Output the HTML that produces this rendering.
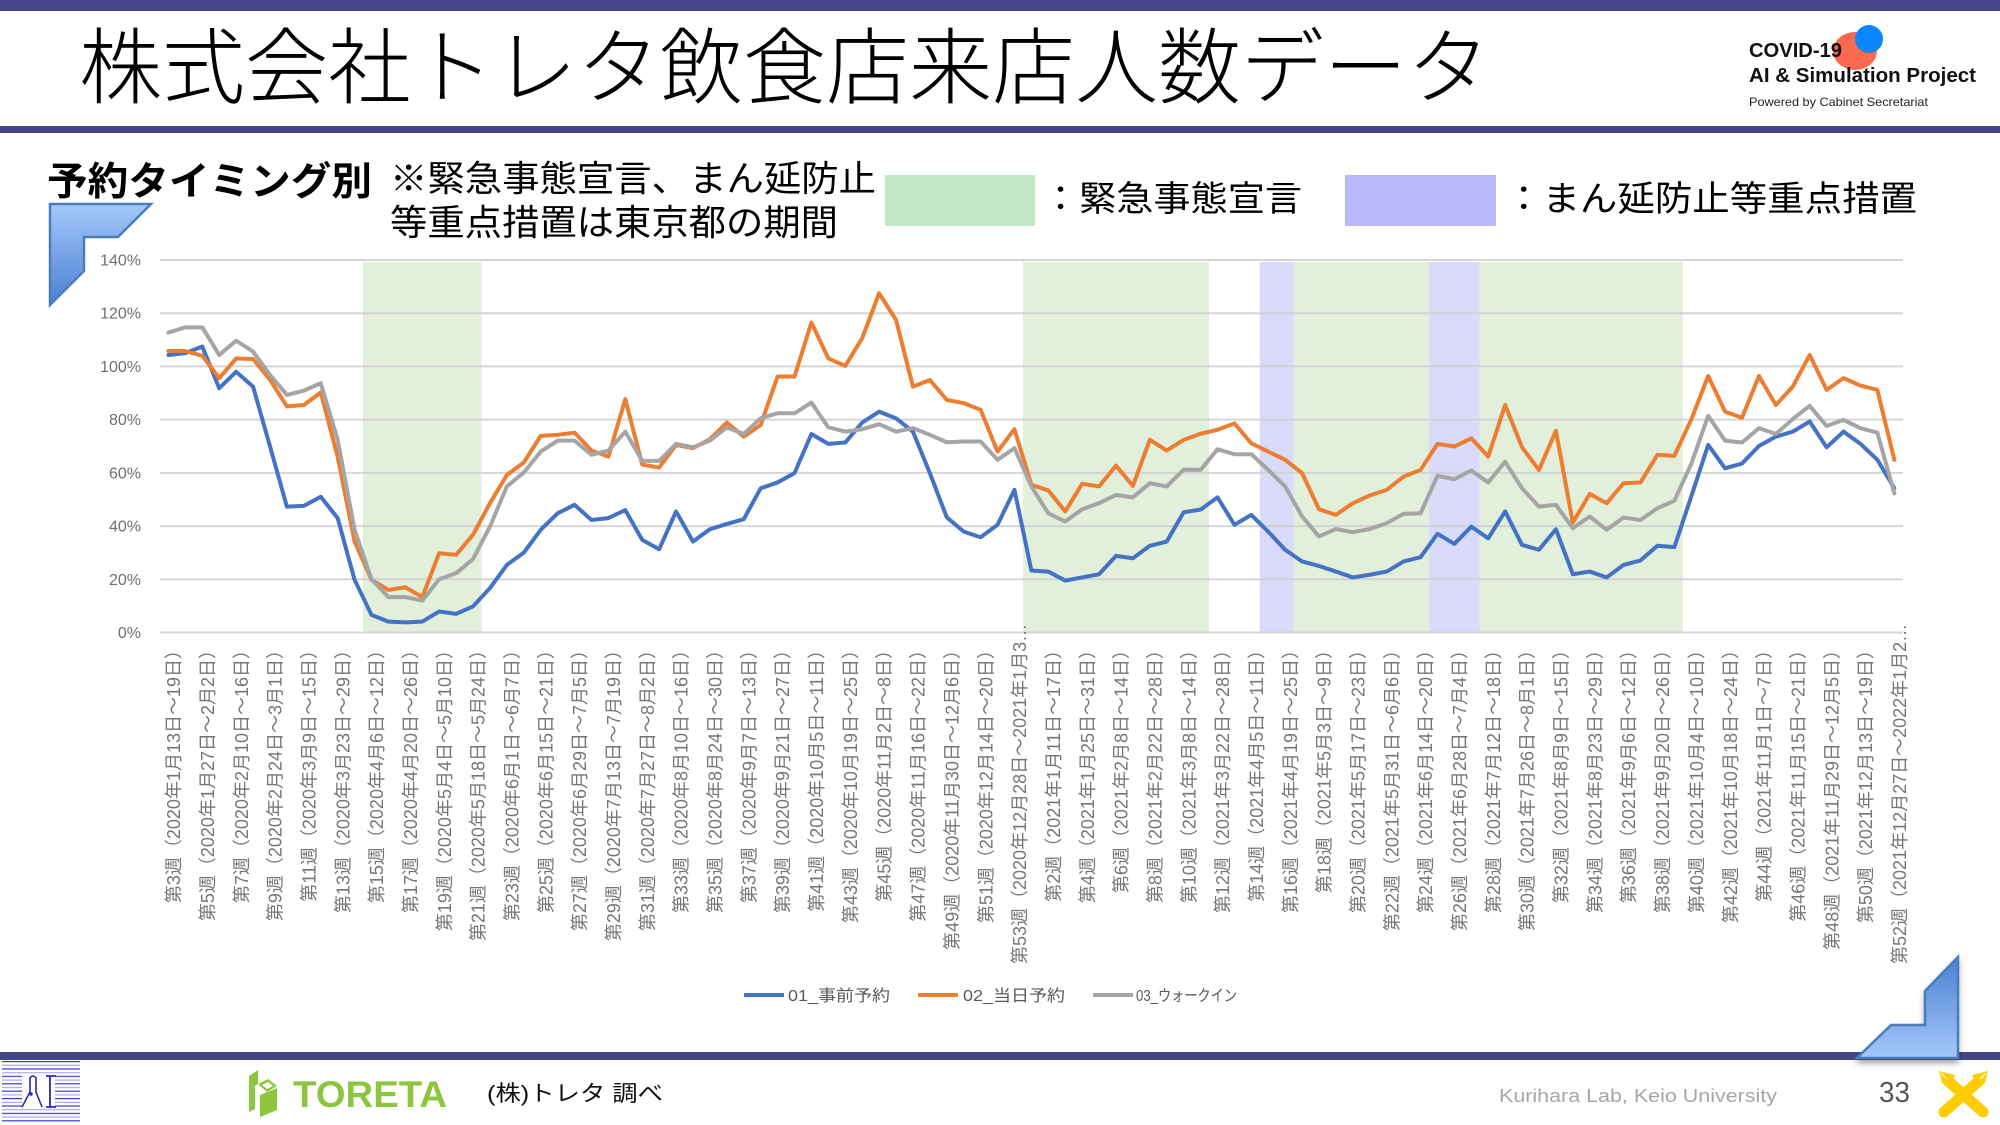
<!DOCTYPE html>
<html><head><meta charset="utf-8"><style>html,body{margin:0;padding:0;background:#fff;}svg{display:block}</style></head>
<body>
<svg width="2000" height="1125" viewBox="0 0 2000 1125" xmlns="http://www.w3.org/2000/svg" font-family="'Liberation Sans','Noto Sans CJK JP',sans-serif">
<defs>
<linearGradient id="g1" x1="0" y1="0" x2="0" y2="1"><stop offset="0" stop-color="#a5c8fc"/><stop offset="1" stop-color="#4a80d2"/></linearGradient>
<linearGradient id="g2" x1="0" y1="0" x2="0" y2="1"><stop offset="0" stop-color="#4a80d2"/><stop offset="1" stop-color="#a5c8fc"/></linearGradient>
<filter id="sh" x="-20%" y="-20%" width="140%" height="150%"><feDropShadow dx="0" dy="4" stdDeviation="3" flood-color="#000" flood-opacity="0.35"/></filter>
<pattern id="lp" width="10" height="7.4" patternUnits="userSpaceOnUse" x="0" y="1061"><rect width="10" height="1.2" fill="#3a3acc"/><rect y="3.7" width="10" height="1.2" fill="#a8a8ee"/></pattern>
</defs>
<rect width="2000" height="1125" fill="#fff"/>
<!-- header -->
<rect x="0" y="0" width="2000" height="11" fill="#45458a"/>
<rect x="0" y="126" width="2000" height="7" fill="#45458a"/>
<text x="79" y="97" font-size="83" font-weight="300" fill="#000" textLength="1411" lengthAdjust="spacingAndGlyphs">株式会社トレタ飲食店来店人数データ</text>
<ellipse cx="1855" cy="51" rx="22" ry="19" fill="#fb6a4f"/>
<circle cx="1869" cy="39" r="14" fill="#0a86ff"/>
<text x="1749" y="57" font-family="'Liberation Sans',sans-serif" font-weight="bold" font-size="20" fill="#111" textLength="93" lengthAdjust="spacingAndGlyphs">COVID-19</text>
<text x="1749" y="82" font-family="'Liberation Sans',sans-serif" font-weight="bold" font-size="20" fill="#111" textLength="227" lengthAdjust="spacingAndGlyphs">AI &amp; Simulation Project</text>
<text x="1749" y="106" font-family="'Liberation Sans',sans-serif" font-size="12" fill="#222" textLength="179" lengthAdjust="spacingAndGlyphs">Powered by Cabinet Secretariat</text>

<!-- subtitle + legend boxes -->
<text x="47" y="195" font-size="39" font-weight="bold" fill="#000" textLength="325" lengthAdjust="spacingAndGlyphs">予約タイミング別</text>
<text x="390" y="191" font-size="36" fill="#000" textLength="486" lengthAdjust="spacingAndGlyphs">※緊急事態宣言、まん延防止</text>
<text x="390" y="235" font-size="36" fill="#000" textLength="448" lengthAdjust="spacingAndGlyphs">等重点措置は東京都の期間</text>
<rect x="885" y="175" width="150" height="51" fill="#c3e8c8"/>
<text x="1042" y="211" font-size="35" fill="#000" textLength="260" lengthAdjust="spacingAndGlyphs">：緊急事態宣言</text>
<rect x="1345" y="175" width="151" height="51" fill="#b9b9fb"/>
<text x="1505" y="211" font-size="35" fill="#000" textLength="412" lengthAdjust="spacingAndGlyphs">：まん延防止等重点措置</text>

<!-- top-left decoration -->
<polygon points="50,204 151,204 118,237 84,237 84,271 50,305" fill="url(#g1)" stroke="#4a7ebb" stroke-width="2.5" stroke-linejoin="miter"/>

<!-- bands -->
<g>
<rect x="363.0" y="262" width="118.5" height="370.5" fill="#e2efda"/>
<rect x="1022.9" y="262" width="186.1" height="370.5" fill="#e2efda"/>
<rect x="1259.8" y="262" width="33.8" height="370.5" fill="#dadafb"/>
<rect x="1293.6" y="262" width="135.4" height="370.5" fill="#e2efda"/>
<rect x="1429.0" y="262" width="50.8" height="370.5" fill="#dadafb"/>
<rect x="1479.8" y="262" width="203" height="370.5" fill="#e2efda"/>
</g>
<!-- gridlines -->
<g stroke="#cfcfcf" stroke-opacity="0.85" stroke-width="2">
<line x1="160" y1="260.0" x2="1903" y2="260.0"/>
<line x1="160" y1="313.2" x2="1903" y2="313.2"/>
<line x1="160" y1="366.4" x2="1903" y2="366.4"/>
<line x1="160" y1="419.6" x2="1903" y2="419.6"/>
<line x1="160" y1="472.9" x2="1903" y2="472.9"/>
<line x1="160" y1="526.1" x2="1903" y2="526.1"/>
<line x1="160" y1="579.3" x2="1903" y2="579.3"/>
<line x1="160" y1="632.5" x2="1903" y2="632.5"/>
</g>
<g font-family="'Liberation Sans',sans-serif" font-size="16" fill="#6f6f6f" text-anchor="end">
<text x="141" y="265.5">140%</text>
<text x="141" y="318.7">120%</text>
<text x="141" y="371.9">100%</text>
<text x="141" y="425.1">80%</text>
<text x="141" y="478.4">60%</text>
<text x="141" y="531.6">40%</text>
<text x="141" y="584.8">20%</text>
<text x="141" y="638.0">0%</text>
</g>

<!-- series -->
<g transform="translate(168.46,632.5) scale(16.92,-2.6607)" fill="none" stroke-linejoin="round" stroke-linecap="round">
<polyline vector-effect="non-scaling-stroke" stroke="#4472c4" stroke-width="4" points="0,104.3 1,105 2,107.5 3,91.8 4,98 5,92.4 6,70 7,47.3 8,47.6 9,51 10,43 11,19.8 12,6.6 13,4.1 14,3.8 15,4.1 16,7.9 17,7 18,9.8 19,16.7 20,25.4 21,30 22,38.6 23,44.8 24,48 25,42.3 26,43 27,46 28,34.8 29,31.3 30,45.5 31,34.2 32,38.8 33,40.8 34,42.6 35,54.2 36,56.4 37,59.9 38,74.6 39,70.9 40,71.4 41,78.9 42,83 43,80.5 44,75.5 45,59.9 46,43.3 47,37.9 48,35.8 49,40.5 50,53.6 51,23.3 52,22.9 53,19.5 54,20.7 55,21.9 56,28.8 57,27.9 58,32.6 59,34.2 60,45.2 61,46.2 62,50.8 63,40.5 64,44.2 65,37.9 66,31.1 67,26.7 68,25 69,22.9 70,20.7 71,21.7 72,22.9 73,26.7 74,28.3 75,37.1 76,33.3 77,39.8 78,35.4 79,45.5 80,32.9 81,31.1 82,38.8 83,21.9 84,22.9 85,20.7 86,25.4 87,27.1 88,32.6 89,32.1 90,51.1 91,70.5 92,61.7 93,63.5 94,70.1 95,73.6 96,75.5 97,79.3 98,69.6 99,75.5 100,70.9 101,64.9 102,54.2"/>
<polyline vector-effect="non-scaling-stroke" stroke="#ed7d31" stroke-width="4" points="0,105.8 1,105.8 2,104 3,95.6 4,103 5,102.8 6,95 7,85 8,85.5 9,90.2 10,66 11,34.2 12,19.8 13,16 14,17 15,13.3 16,29.8 17,29.2 18,36.7 19,48.6 20,59.2 21,63.9 22,73.9 23,74.3 24,75.1 25,68.4 26,66.1 27,87.7 28,63.1 29,62 30,70.5 31,69.3 32,72.6 33,78.9 34,73.6 35,78 36,96.2 37,96.2 38,116.5 39,103 40,100.2 41,110.6 42,127.5 43,117.5 44,92.4 45,94.9 46,87.4 47,86.2 48,83.7 49,68 50,76.4 51,55.5 52,53.4 53,45.5 54,55.9 55,54.9 56,62.7 57,55.1 58,72.4 59,68.4 60,72.4 61,74.7 62,76.2 63,78.6 64,71.1 65,68 66,64.9 67,59.9 68,46.3 69,44.2 70,48.6 71,51.5 72,53.6 73,58.6 74,61.1 75,70.9 76,69.9 77,73 78,66.1 79,85.5 80,69.6 81,61.1 82,75.8 83,41.3 84,52.1 85,48.6 86,56.1 87,56.4 88,66.8 89,66.4 90,80 91,96.4 92,83 93,80.7 94,96.4 95,85.5 96,92.4 97,104.3 98,91.2 99,95.6 100,92.8 101,91.2 102,64.9"/>
<polyline vector-effect="non-scaling-stroke" stroke="#a5a5a5" stroke-width="4" points="0,112.7 1,114.7 2,114.7 3,104.3 4,109.7 5,105.6 6,96.8 7,89.3 8,90.9 9,93.7 10,72.4 11,38.6 12,20 13,13.3 14,13.3 15,12 16,20 17,22.3 18,27.6 19,39.8 20,54.9 21,60.1 22,68 23,72.1 24,72.1 25,66.8 26,68.4 27,75.5 28,64.5 29,64.5 30,70.9 31,69.6 32,72.1 33,77.1 34,74.6 35,80.5 36,82.4 37,82.4 38,86.4 39,77.1 40,75.5 41,76.4 42,78.3 43,75.5 44,76.8 45,74.3 46,71.5 47,71.8 48,71.8 49,64.9 50,69.3 51,54.9 52,44.8 53,41.7 54,46.3 55,48.6 56,51.7 57,50.8 58,56.1 59,54.9 60,61.2 61,61.1 62,68.9 63,67 64,67 65,61.1 66,54.9 67,43.6 68,36.1 69,38.9 70,37.7 71,38.9 72,41.1 73,44.6 74,44.8 75,58.9 76,57.6 77,60.9 78,56.4 79,64.2 80,54.2 81,47.3 82,48 83,39.2 84,43.6 85,38.6 86,43.2 87,42.3 88,46.7 89,49.5 90,63.4 91,81.4 92,72.1 93,71.4 94,76.8 95,74.6 96,80.2 97,85.2 98,77.6 99,79.9 100,76.8 101,75.1 102,52.3"/>
</g>

<!-- x labels -->
<g font-size="18" fill="#767676" text-anchor="end">
<text transform="translate(180.1 641) rotate(-90)">第3週（2020年1月13日～19日）</text>
<text transform="translate(213.9 641) rotate(-90)">第5週（2020年1月27日～2月2日）</text>
<text transform="translate(247.8 641) rotate(-90)">第7週（2020年2月10日～16日）</text>
<text transform="translate(281.6 641) rotate(-90)">第9週（2020年2月24日～3月1日）</text>
<text transform="translate(315.5 641) rotate(-90)">第11週（2020年3月9日～15日）</text>
<text transform="translate(349.3 641) rotate(-90)">第13週（2020年3月23日～29日）</text>
<text transform="translate(383.1 641) rotate(-90)">第15週（2020年4月6日～12日）</text>
<text transform="translate(417.0 641) rotate(-90)">第17週（2020年4月20日～26日）</text>
<text transform="translate(450.8 641) rotate(-90)">第19週（2020年5月4日～5月10日）</text>
<text transform="translate(484.7 641) rotate(-90)">第21週（2020年5月18日～5月24日）</text>
<text transform="translate(518.5 641) rotate(-90)">第23週（2020年6月1日～6月7日）</text>
<text transform="translate(552.3 641) rotate(-90)">第25週（2020年6月15日～21日）</text>
<text transform="translate(586.2 641) rotate(-90)">第27週（2020年6月29日～7月5日）</text>
<text transform="translate(620.0 641) rotate(-90)">第29週（2020年7月13日～7月19日）</text>
<text transform="translate(653.9 641) rotate(-90)">第31週（2020年7月27日～8月2日）</text>
<text transform="translate(687.7 641) rotate(-90)">第33週（2020年8月10日～16日）</text>
<text transform="translate(721.5 641) rotate(-90)">第35週（2020年8月24日～30日）</text>
<text transform="translate(755.4 641) rotate(-90)">第37週（2020年9月7日～13日）</text>
<text transform="translate(789.2 641) rotate(-90)">第39週（2020年9月21日～27日）</text>
<text transform="translate(823.1 641) rotate(-90)">第41週（2020年10月5日～11日）</text>
<text transform="translate(856.9 641) rotate(-90)">第43週（2020年10月19日～25日）</text>
<text transform="translate(890.7 641) rotate(-90)">第45週（2020年11月2日～8日）</text>
<text transform="translate(924.6 641) rotate(-90)">第47週（2020年11月16日～22日）</text>
<text transform="translate(958.4 641) rotate(-90)">第49週（2020年11月30日～12月6日）</text>
<text transform="translate(992.3 641) rotate(-90)">第51週（2020年12月14日～20日）</text>
<text transform="translate(1026.1 964) rotate(-90)" text-anchor="start">第53週（2020年12月28日～2021年1月3…</text>
<text transform="translate(1060.0 641) rotate(-90)">第2週（2021年1月11日～17日）</text>
<text transform="translate(1093.8 641) rotate(-90)">第4週（2021年1月25日～31日）</text>
<text transform="translate(1127.6 641) rotate(-90)">第6週（2021年2月8日～14日）</text>
<text transform="translate(1161.5 641) rotate(-90)">第8週（2021年2月22日～28日）</text>
<text transform="translate(1195.3 641) rotate(-90)">第10週（2021年3月8日～14日）</text>
<text transform="translate(1229.2 641) rotate(-90)">第12週（2021年3月22日～28日）</text>
<text transform="translate(1263.0 641) rotate(-90)">第14週（2021年4月5日～11日）</text>
<text transform="translate(1296.8 641) rotate(-90)">第16週（2021年4月19日～25日）</text>
<text transform="translate(1330.7 641) rotate(-90)">第18週（2021年5月3日～9日）</text>
<text transform="translate(1364.5 641) rotate(-90)">第20週（2021年5月17日～23日）</text>
<text transform="translate(1398.4 641) rotate(-90)">第22週（2021年5月31日～6月6日）</text>
<text transform="translate(1432.2 641) rotate(-90)">第24週（2021年6月14日～20日）</text>
<text transform="translate(1466.0 641) rotate(-90)">第26週（2021年6月28日～7月4日）</text>
<text transform="translate(1499.9 641) rotate(-90)">第28週（2021年7月12日～18日）</text>
<text transform="translate(1533.7 641) rotate(-90)">第30週（2021年7月26日～8月1日）</text>
<text transform="translate(1567.6 641) rotate(-90)">第32週（2021年8月9日～15日）</text>
<text transform="translate(1601.4 641) rotate(-90)">第34週（2021年8月23日～29日）</text>
<text transform="translate(1635.2 641) rotate(-90)">第36週（2021年9月6日～12日）</text>
<text transform="translate(1669.1 641) rotate(-90)">第38週（2021年9月20日～26日）</text>
<text transform="translate(1702.9 641) rotate(-90)">第40週（2021年10月4日～10日）</text>
<text transform="translate(1736.8 641) rotate(-90)">第42週（2021年10月18日～24日）</text>
<text transform="translate(1770.6 641) rotate(-90)">第44週（2021年11月1日～7日）</text>
<text transform="translate(1804.4 641) rotate(-90)">第46週（2021年11月15日～21日）</text>
<text transform="translate(1838.3 641) rotate(-90)">第48週（2021年11月29日～12月5日）</text>
<text transform="translate(1872.1 641) rotate(-90)">第50週（2021年12月13日～19日）</text>
<text transform="translate(1906.0 964) rotate(-90)" text-anchor="start">第52週（2021年12月27日～2022年1月2…</text>
</g>

<!-- legend -->
<g font-size="16" fill="#595959">
<line x1="744" y1="995" x2="784" y2="995" stroke="#4472c4" stroke-width="4"/>
<text x="788" y="1001" textLength="102" lengthAdjust="spacingAndGlyphs">01_事前予約</text>
<line x1="918" y1="995" x2="958" y2="995" stroke="#ed7d31" stroke-width="4"/>
<text x="963" y="1001" textLength="102" lengthAdjust="spacingAndGlyphs">02_当日予約</text>
<line x1="1093" y1="995" x2="1133" y2="995" stroke="#a5a5a5" stroke-width="4"/>
<text x="1136" y="1001" textLength="101" lengthAdjust="spacingAndGlyphs">03_ウォークイン</text>
</g>

<!-- footer bar -->
<rect x="0" y="1052" width="2000" height="8" fill="#45458a"/>
<!-- bottom-right decoration -->
<polygon points="1958,957 1958,1058 1857,1058 1891,1025 1925,1025 1925,991" fill="url(#g2)" stroke="#4a7ebb" stroke-width="2.5" filter="url(#sh)"/>

<!-- lab logo -->
<rect x="2" y="1061" width="78" height="62" fill="url(#lp)"/>
<rect x="22" y="1074" width="33" height="34" fill="#fff"/>
<path d="M 22 1107 L 30 1092 L 30 1078 Q 33 1074 36 1078 L 36 1092 L 42 1107" fill="none" stroke="#2a2ab0" stroke-width="1.6"/>
<circle cx="31" cy="1094" r="1.8" fill="#2a2ab0"/>
<path d="M 46 1076 L 56 1076 M 50 1076 L 50 1107 M 46 1107 L 56 1107" fill="none" stroke="#2a2ab0" stroke-width="1.8"/>

<!-- TORETA logo -->
<g fill="#8cc63f">
<polygon points="249,1076 258,1070 258,1084 249,1089"/>
<polygon points="249,1089 255,1086 255,1109 249,1112"/>
<polygon points="258,1084 268,1079 277,1086 267,1092"/>
<polygon points="260,1095 277,1088 277,1110 260,1117"/>
</g>
<polygon points="262,1085 268,1082 273,1086 267,1089" fill="#fff"/>
<text x="293" y="1107" font-family="'Liberation Sans',sans-serif" font-weight="bold" font-size="37" fill="#8cc63f" textLength="154" lengthAdjust="spacingAndGlyphs">TORETA</text>
<text x="487" y="1101" font-size="22" fill="#111" textLength="176" lengthAdjust="spacingAndGlyphs">(株)トレタ 調べ</text>

<text x="1499" y="1102" font-family="'Liberation Sans',sans-serif" font-size="18" fill="#a6a6a6" textLength="278" lengthAdjust="spacingAndGlyphs">Kurihara Lab, Keio University</text>
<text x="1879" y="1102" font-family="'Liberation Sans',sans-serif" font-size="29" fill="#595959" textLength="31" lengthAdjust="spacingAndGlyphs">33</text>

<!-- yellow X logo -->
<g stroke="#ffcc00" stroke-width="11" stroke-linecap="round">
<line x1="1947" y1="1080" x2="1983" y2="1112"/>
<line x1="1980" y1="1080" x2="1944" y2="1112"/>
</g>
<polygon points="1939,1071 1955,1075 1950,1086 1942,1083" fill="#ffcc00"/>
<polygon points="1988,1071 1972,1075 1977,1086 1985,1083" fill="#ffcc00"/>
<line x1="1941" y1="1073" x2="1947" y2="1079" stroke="#fff" stroke-width="1.2"/>
<line x1="1986" y1="1073" x2="1980" y2="1079" stroke="#fff" stroke-width="1.2"/>
</svg>
</body></html>
